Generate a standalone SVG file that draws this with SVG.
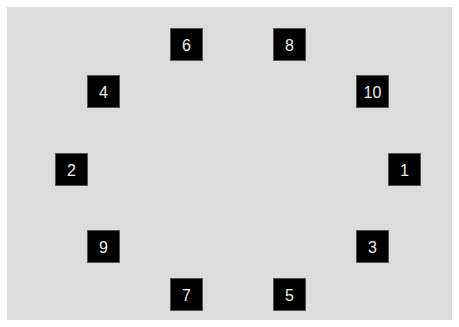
<svg xmlns="http://www.w3.org/2000/svg" width="459" height="327" viewBox="0 0 459 327">
<style>
.n rect{fill:#000;stroke:#555;stroke-width:1}
.n text{fill:#eee;font-family:"Liberation Sans",Arial,sans-serif;font-size:16px;text-anchor:middle;dominant-baseline:central}
</style>
<rect x="0" y="0" width="459" height="327" fill="#fff"/>
<rect x="7" y="7" width="445" height="313" fill="#dcdcdc"/>
<g id="connectors"></g>
<g id="node6" class="n"><rect x="170.5" y="28.5" width="32" height="32"/><text x="186.5" y="45">6</text></g>
<g id="node8" class="n"><rect x="273.5" y="28.5" width="32" height="32"/><text x="289.5" y="45">8</text></g>
<g id="node4" class="n"><rect x="87.5" y="75.5" width="32" height="32"/><text x="103.5" y="92">4</text></g>
<g id="node10" class="n"><rect x="356.5" y="75.5" width="32" height="32"/><text x="372.5" y="92">10</text></g>
<g id="node2" class="n"><rect x="55.5" y="153.5" width="32" height="32"/><text x="71.5" y="170">2</text></g>
<g id="node1" class="n"><rect x="388.5" y="153.5" width="32" height="32"/><text x="404.5" y="170">1</text></g>
<g id="node9" class="n"><rect x="87.5" y="230.5" width="32" height="32"/><text x="103.5" y="247">9</text></g>
<g id="node3" class="n"><rect x="356.5" y="230.5" width="32" height="32"/><text x="372.5" y="247">3</text></g>
<g id="node7" class="n"><rect x="170.5" y="278.5" width="32" height="32"/><text x="186.5" y="295">7</text></g>
<g id="node5" class="n"><rect x="273.5" y="278.5" width="32" height="32"/><text x="289.5" y="295">5</text></g>
</svg>
